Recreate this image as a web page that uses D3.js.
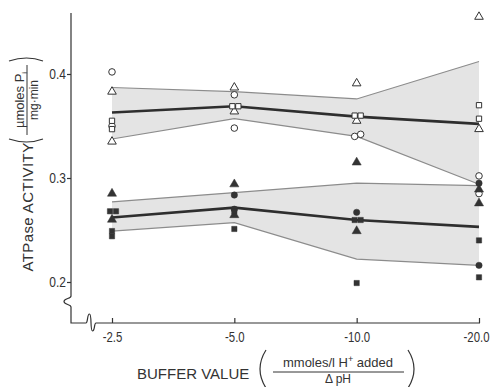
<!DOCTYPE html>
<html><head><meta charset="utf-8">
<script src="https://cdn.jsdelivr.net/npm/d3@7"></script>
<style>
html,body{margin:0;padding:0;background:#fff;}
svg{display:block;}
.tick text{font-family:"Liberation Sans",Arial,sans-serif;font-size:15px;fill:#333;}
</style></head>
<body><svg id="c" width="491" height="387"></svg>
<script>
// ---- data ----
const categories = ["-2.5", "-5.0", "-10.0", "-20.0"];
const yTicks = [0.2, 0.3, 0.4];
const upperMean = [0.363, 0.369, 0.359, 0.352];
const upperHigh = [0.387, 0.383, 0.376, 0.412];
const upperLow  = [0.3375, 0.357, 0.340, 0.294];
const lowerMean = [0.262, 0.2715, 0.2596, 0.253];
const lowerHigh = [0.277, 0.286, 0.295, 0.2926];
const lowerLow  = [0.249, 0.257, 0.222, 0.216];
const openCircles = [["-2.5",0.402],["-2.5",0.350],["-5.0",0.380],["-5.0",0.348],["-10.0",0.340],["-10.0",0.342],["-20.0",0.302],["-20.0",0.285]];
const openTriangles = [["-2.5",0.383],["-2.5",0.335],["-5.0",0.387],["-5.0",0.364],["-10.0",0.391],["-10.0",0.355],["-20.0",0.455],["-20.0",0.347]];
const openSquares = [["-2.5",0.355],["-2.5",0.347],["-5.0",0.369],["-5.0",0.369],["-10.0",0.360],["-10.0",0.360],["-20.0",0.370],["-20.0",0.357]];
const filledCircles = [["-5.0",0.2836],["-5.0",0.270],["-10.0",0.267],["-20.0",0.295],["-20.0",0.216]];
const filledTriangles = [["-2.5",0.285],["-2.5",0.260],["-5.0",0.294],["-5.0",0.2644],["-10.0",0.315],["-10.0",0.249],["-20.0",0.289],["-20.0",0.2757]];
const filledSquares = [["-2.5",0.268],["-2.5",0.268],["-2.5",0.249],["-2.5",0.244],["-5.0",0.268],["-5.0",0.251],["-10.0",0.2596],["-10.0",0.2596],["-10.0",0.199],["-20.0",0.240],["-20.0",0.2045]];

// ---- drawing ----
const svg = d3.select("#c");
const ink = "#333";
const x = d3.scalePoint().domain(categories).range([112, 479]);
const y = d3.scaleLinear().domain([0.2, 0.4]).range([282, 74]);
const axisX = 71, axisY = 323;

// bands
function band(hi, lo, mean) {
  const area = d3.area().x((d, i) => x(categories[i])).y0((d, i) => y(lo[i])).y1(d => y(d));
  svg.append("path").attr("d", area(hi)).attr("fill", "#e4e4e4");
  const line = d3.line().x((d, i) => x(categories[i])).y(d => y(d));
  [hi, lo].forEach(arr => svg.append("path").attr("d", line(arr)).attr("fill", "none")
    .attr("stroke", "#8c8c8c").attr("stroke-width", 1.2));
  svg.append("path").attr("d", line(mean)).attr("fill", "none")
    .attr("stroke", "#2e2e2e").attr("stroke-width", 2.6);
}
band(upperHigh, upperLow, upperMean);
band(lowerHigh, lowerLow, lowerMean);

// axes lines with breaks
svg.append("path")
  .attr("d", `M${axisX},13 V296 C${axisX},299 ${axisX-7},298 ${axisX-7},301.5 C${axisX-7},305 ${axisX},304 ${axisX},307 V${axisY} H86 C88,${axisY} 87,314 89.5,314 C92,314 90,331 92.5,331 C95,331 94,${axisY} 96,${axisY} H480`)
  .attr("fill", "none").attr("stroke", ink).attr("stroke-width", 1.2);

const gy = svg.append("g").attr("transform", `translate(${axisX},0)`)
  .call(d3.axisLeft(y).tickValues(yTicks).tickSize(4).tickPadding(1).tickFormat(d3.format(".1f")));
gy.select(".domain").remove();
gy.selectAll(".tick line").attr("stroke", ink).attr("stroke-width", 1.2);
gy.selectAll(".tick text").attr("transform", "translate(-5,0) scale(0.8,1) translate(5,0)");

const gx = svg.append("g").attr("transform", `translate(0,${axisY})`)
  .call(d3.axisBottom(x).tickSize(-5).tickPadding(8));
gx.select(".domain").remove();
gx.selectAll(".tick line").attr("stroke", ink).attr("stroke-width", 1.2);
gx.selectAll(".tick text").attr("transform", (d, i) => (i === categories.length - 1 ? "translate(-3,0) " : "") + "scale(0.76,1)");

// markers
function place(data) {
  const seen = {};
  return data.map(([c, v]) => {
    seen[c] = seen[c] || [];
    let dx = 0;
    seen[c].forEach(p => { if (Math.abs(p.v - v) < 0.004 && p.dx >= dx) dx = p.dx + 6; });
    const pt = {c, v, dx};
    seen[c].push(pt);
    return pt;
  }).map(p => {
    const group = data.filter(([c, v]) => c === p.c && Math.abs(v - p.v) < 0.004).length;
    return {c: p.c, v: p.v, dx: group > 1 ? p.dx - 2 : p.dx};
  });
}
function markers(data, type, size, filled) {
  svg.append("g").selectAll("path").data(place(data)).join("path")
    .attr("transform", d => `translate(${x(d.c) + d.dx},${y(d.v)})`)
    .attr("d", d3.symbol().type(type).size(size))
    .attr("fill", filled ? ink : "#fff")
    .attr("stroke", ink).attr("stroke-width", filled ? 0.5 : 1);
}
markers(openCircles, d3.symbolCircle, 34, false);
markers(openTriangles, d3.symbolTriangle, 32, false);
markers(openSquares, d3.symbolSquare, 28, false);
markers(filledCircles, d3.symbolCircle, 32, true);
markers(filledTriangles, d3.symbolTriangle, 36, true);
markers(filledSquares, d3.symbolSquare, 28, true);

// y title
const yt = svg.append("g").attr("font-family", "'Liberation Sans', Arial, sans-serif").attr("fill", ink);
yt.append("text").attr("transform", "translate(33,207) rotate(-90)").attr("text-anchor", "middle")
  .attr("font-size", 15).attr("letter-spacing", 0.4).text("ATPase ACTIVITY");
const yf = yt.append("g").attr("transform", "translate(27,100) rotate(-90)");
const num = yf.append("text").attr("x", 0).attr("y", -3).attr("text-anchor", "middle").attr("font-size", 13);
num.append("tspan").text("\u00b5moles P");
num.append("tspan").attr("font-size", 8).attr("dy", 3).text("i");
yf.append("text").attr("x", 0).attr("y", 11).attr("text-anchor", "middle").attr("font-size", 12).text("mg\u00b7min");
yf.append("line").attr("x1", -35).attr("x2", 35).attr("y1", 0).attr("y2", 0).attr("stroke", ink).attr("stroke-width", 1);
yf.append("path").attr("d", "M-39,-18 Q-45,0 -39,16").attr("fill", "none").attr("stroke", ink).attr("stroke-width", 1.1);
yf.append("path").attr("d", "M39,-18 Q45,0 39,16").attr("fill", "none").attr("stroke", ink).attr("stroke-width", 1.1);

// x title
const xt = svg.append("g").attr("font-family", "'Liberation Sans', Arial, sans-serif").attr("fill", ink);
xt.append("text").attr("x", 137).attr("y", 379).attr("font-size", 15).text("BUFFER VALUE");
const xn = xt.append("text").attr("x", 338).attr("y", 367).attr("text-anchor", "middle").attr("font-size", 13);
xn.append("tspan").text("mmoles/l H");
xn.append("tspan").attr("font-size", 9).attr("dy", -5).text("+");
xn.append("tspan").attr("dy", 5).text(" added");
xt.append("line").attr("x1", 273).attr("x2", 404).attr("y1", 372).attr("y2", 372).attr("stroke", ink).attr("stroke-width", 1);
xt.append("text").attr("x", 338).attr("y", 383).attr("text-anchor", "middle").attr("font-size", 12).text("\u0394 pH");
xt.append("path").attr("d", "M266,350 Q254,369 266,388").attr("fill", "none").attr("stroke", ink).attr("stroke-width", 1.2);
xt.append("path").attr("d", "M408,350 Q420,369 408,388").attr("fill", "none").attr("stroke", ink).attr("stroke-width", 1.2);
</script></body></html>
